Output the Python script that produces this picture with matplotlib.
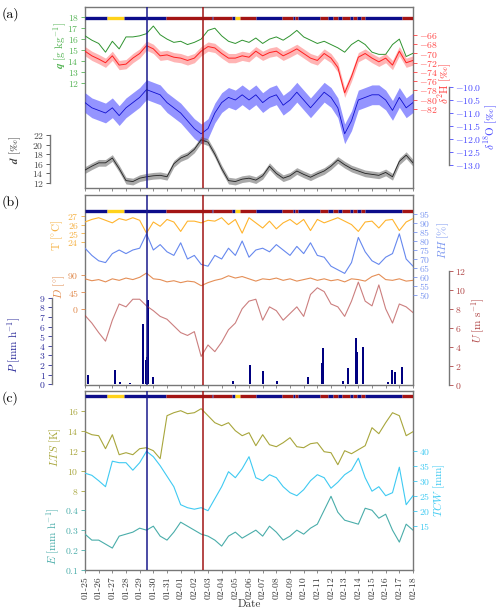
import numpy as np
import pandas as pd
import matplotlib
matplotlib.use("Agg")
import matplotlib.pyplot as plt
from matplotlib.ticker import FormatStrFormatter

plt.rcParams['font.family'] = ['cmr10', 'DejaVu Serif']
plt.rcParams['mathtext.fontset'] = 'cm'
plt.rcParams['axes.formatter.use_mathtext'] = True
plt.rcParams['font.size'] = 8

# sample times: days after 01-25 00:00, every 12 h
days = np.arange(0, 24.01, 0.5)
date_labels = pd.date_range('2020-01-25', '2020-02-18').strftime('%m-%d')

# (a) isotopes and humidity
q = [16.3, 15.9, 15.6, 14.8, 15.8, 15.1, 16.2, 16.2, 16.3, 16.5, 17.2, 16.4, 16.0,
     15.7, 15.8, 15.5, 15.7, 16.0, 16.8, 17.0, 16.3, 15.8, 15.6, 15.9, 15.7, 16.1,
     15.6, 16.0, 16.2, 15.9, 16.3, 16.8, 16.2, 15.9, 15.6, 15.8, 15.5, 15.2, 14.8,
     15.5, 15.9, 15.5, 14.8, 14.6, 14.6, 15.5, 16.0, 14.4, 14.7]
d2h = [-69.5, -70.5, -71.2, -72.0, -70.5, -72.5, -72.3, -71.0, -70.0, -68.3, -69.0,
       -70.5, -70.3, -70.8, -71.0, -71.5, -71.0, -69.5, -68.5, -68.8, -70.0, -71.0,
       -71.0, -70.5, -70.8, -69.5, -70.5, -69.8, -69.5, -70.5, -69.8, -69.0, -70.0,
       -71.0, -71.5, -70.0, -71.0, -73.0, -78.5, -75.0, -70.8, -70.0, -71.0, -71.8,
       -71.0, -72.5, -69.5, -72.0, -71.5]
d18o = [-10.6, -10.8, -10.9, -11.0, -10.8, -11.1, -10.8, -10.6, -10.4, -10.1, -10.2,
        -10.3, -10.6, -10.8, -11.0, -11.3, -11.6, -11.8, -11.6, -11.0, -10.6, -10.4,
        -10.5, -10.3, -10.5, -10.3, -10.6, -10.4, -10.3, -10.7, -10.5, -10.2, -10.5,
        -10.8, -10.5, -10.2, -10.4, -10.8, -11.8, -11.3, -10.5, -10.4, -10.3, -10.3,
        -10.5, -10.9, -10.4, -10.8, -10.6]
dex = [14.7, 15.5, 16.2, 16.2, 17.2, 15.0, 12.5, 12.3, 13.0, 13.3, 13.5, 13.6, 13.3,
       16.0, 17.2, 17.8, 19.0, 21.0, 20.5, 18.0, 15.0, 12.5, 12.3, 12.8, 13.0, 12.6,
       13.5, 15.5, 14.0, 13.0, 13.5, 14.5, 13.8, 13.2, 13.9, 14.5, 15.5, 16.8, 15.8,
       15.0, 14.5, 14.0, 13.8, 13.6, 14.2, 13.3, 16.5, 17.8, 16.2]
d2h_err, d18o_err, dex_err = 1.0, 0.38, 0.7

# (b) surface meteorology
temp = [26.3, 26.6, 26.8, 26.5, 26.2, 26.7, 26.5, 26.8, 26.5, 25.0, 26.3, 25.8, 26.6,
        26.3, 25.2, 26.4, 26.4, 26.2, 26.5, 26.4, 26.8, 26.0, 26.6, 25.0, 26.8, 26.2,
        25.6, 26.4, 25.5, 26.2, 26.6, 26.0, 26.6, 25.3, 26.6, 26.2, 26.5, 26.8, 26.4,
        26.0, 25.2, 26.3, 26.4, 25.6, 26.5, 26.6, 25.3, 26.3, 26.7]
rh = [76, 72, 69, 68, 73, 75, 73, 75, 76, 84, 75, 78, 74, 72, 79, 70, 72, 67, 66, 72,
      70, 76, 72, 80, 71, 75, 76, 74, 78, 75, 72, 77, 73, 79, 72, 71, 66, 64, 62, 68,
      82, 74, 69, 67, 71, 73, 84, 70, 66]
wdir = [80, 75, 78, 72, 80, 76, 82, 78, 84, 95, 80, 78, 72, 75, 70, 74, 72, 62, 70, 76,
        80, 88, 82, 86, 80, 74, 80, 78, 82, 76, 80, 74, 78, 82, 76, 80, 75, 78, 72, 80,
        78, 74, 86, 92, 78, 76, 80, 74, 76]
wspd = [7.3, 6.5, 5.5, 4.6, 6.8, 8.5, 8.2, 9.0, 9.0, 8.3, 7.8, 7.2, 6.9, 6.2, 5.5, 5.2,
        5.6, 3.0, 4.2, 3.5, 4.5, 5.8, 6.5, 8.0, 8.8, 9.0, 6.8, 8.2, 7.8, 6.8, 7.5, 8.2,
        7.2, 9.5, 10.2, 9.8, 8.5, 8.2, 7.2, 8.8, 10.8, 8.8, 8.3, 10.5, 8.0, 6.5, 8.5,
        8.2, 7.6]
rain_days = [0.22, 2.19, 2.56, 3.29, 4.24, 4.44, 4.54, 4.61, 4.97, 10.83, 12.07, 13.02,
             14.05, 16.31, 17.34, 17.41, 18.87, 19.24, 19.82, 19.90, 20.34, 22.17,
             22.46, 22.68, 23.19]
rain = [1.0, 1.5, 0.2, 0.15, 6.3, 2.5, 2.8, 8.8, 0.8, 0.3, 2.0, 1.4, 0.3, 0.8, 2.2,
        3.8, 0.3, 1.7, 4.8, 3.4, 3.9, 0.2, 1.5, 1.3, 1.8]

# (c) boundary layer
lts = [13.9, 13.6, 13.5, 12.2, 13.6, 11.6, 11.8, 11.6, 12.2, 12.3, 12.0, 11.2, 15.5,
       15.8, 16.0, 15.7, 15.8, 16.2, 15.5, 14.8, 14.5, 14.8, 14.0, 13.5, 13.8, 12.5,
       13.6, 12.6, 12.4, 12.8, 13.3, 12.4, 12.3, 12.7, 12.8, 11.9, 11.8, 10.6, 12.0,
       11.7, 12.1, 12.5, 14.3, 13.7, 14.8, 15.8, 15.5, 13.5, 13.9]
tcw = [32.5, 31.8, 30.0, 28.0, 36.5, 36.0, 36.0, 33.5, 36.0, 39.8, 38.0, 35.0, 31.5,
       28.0, 22.0, 21.0, 20.5, 21.0, 20.0, 24.0, 28.0, 33.0, 31.0, 34.0, 38.0, 31.0,
       30.0, 32.0, 31.0, 28.0, 26.0, 25.0, 27.0, 30.0, 32.0, 31.0, 27.5, 29.5, 32.0,
       33.5, 37.5, 31.0, 26.5, 28.0, 25.0, 26.0, 34.5, 22.0, 25.0]
evap = [0.28, 0.25, 0.25, 0.23, 0.21, 0.27, 0.28, 0.29, 0.31, 0.30, 0.32, 0.27, 0.25,
        0.29, 0.34, 0.32, 0.30, 0.28, 0.27, 0.25, 0.22, 0.27, 0.29, 0.26, 0.28, 0.30,
        0.27, 0.32, 0.29, 0.25, 0.27, 0.30, 0.28, 0.31, 0.33, 0.40, 0.47, 0.39, 0.35,
        0.34, 0.33, 0.41, 0.40, 0.36, 0.38, 0.30, 0.24, 0.33, 0.30]

# regime strip along the top of each panel
regime_edges = [0, 1.59, 2.88, 5.93, 9.27, 9.39, 10.73, 10.97, 11.34, 12.49, 14.39,
                15.24, 15.36, 15.58, 17.19, 17.78, 18.15, 18.51, 18.8, 19.39, 19.6,
                19.88, 20.17, 20.48, 23.17, 24]
regime = ['n', 'y', 'n', 'r', 'n', 'r', 'n', 'y', 'r', 'n', 'r', 'n', 'r', 'n', 'r',
          'n', 'r', 'n', 'r', 'n', 'r', 'n', 'r', 'n', 'r']
regime_colors = {'n': '#0c0c8a', 'y': '#ffd21a', 'r': '#a31414'}

event_blue = 4.55
event_red = 8.6

FRAME = '#777777'
H = 611.0
PT = 0.72  # points per pixel at dpi 100


def panel(top_px, bot_px):
    return [85 / 500, 1 - bot_px / H, 328 / 500, (bot_px - top_px) / H]


def scale(ax, ref, ref_px, ppu, top_px, bot_px):
    ax.set_ylim(ref - (bot_px - ref_px) / ppu, ref + (ref_px - top_px) / ppu)


def twin(ax, side, offset_px=0, bounds=None):
    t = ax.twinx()
    for s in t.spines.values():
        s.set_visible(False)
    if side == 'left':
        t.yaxis.tick_left()
        t.yaxis.set_label_position('left')
    if offset_px:
        sp = t.spines[side]
        sp.set_visible(True)
        sp.set_position(('outward', offset_px * PT))
        sp.set_color(FRAME)
        sp.set_linewidth(1.0)
        if bounds:
            sp.set_bounds(*bounds)
    return t


def style_y(ax, ticks, color, label, lx, ly):
    ax.set_yticks(ticks)
    ax.tick_params(axis='y', colors=color, labelsize=7, length=3, width=0.6, pad=1.5)
    ax.set_ylabel(label, color=color, fontsize=8, rotation=90)
    ax.yaxis.set_label_coords(lx, ly)


def base(ax, strip_y, label, last=False):
    for s in ax.spines.values():
        s.set_color(FRAME)
        s.set_linewidth(1.0)
    ax.set_xlim(0, 24)
    ax.set_xticks(range(25))
    ax.tick_params(axis='x', length=2.5, width=0.6, color=FRAME, pad=2)
    if last:
        ax.set_xticklabels(date_labels, rotation=90, fontsize=7, color='#333333')
        ax.set_xlabel('Date', fontsize=8, color='#333333', labelpad=0)
    else:
        ax.tick_params(axis='x', labelbottom=False)
    for i, r in enumerate(regime):
        ax.plot([regime_edges[i], regime_edges[i + 1]], [strip_y, strip_y],
                color=regime_colors[r], lw=2.4, solid_capstyle='butt',
                transform=ax.get_xaxis_transform(), zorder=6)
    ax.text(-0.255, 1.0, label, transform=ax.transAxes, fontsize=10,
            va='top', ha='left')


def events(ax):
    ax.axvline(event_blue, color='#1a1a8c', lw=1.1, zorder=7)
    ax.axvline(event_red, color='#a01515', lw=1.1, zorder=7)


fig = plt.figure(figsize=(5, 6.11), dpi=100)

# ---------------- (a) ----------------
ta, ba = 7, 188
ax_q = fig.add_axes(panel(ta, ba))
base(ax_q, 0.939, '(a)')
ax_h = twin(ax_q, 'right')
ax_o = twin(ax_q, 'right', 36, (-13, -10))
ax_d = twin(ax_q, 'left', 35, (12, 22))

ax_h.fill_between(days, np.array(d2h) - d2h_err, np.array(d2h) + d2h_err,
                  color='#ff2a2a', alpha=0.35, lw=0)
ax_h.plot(days, d2h, color='#ff2020', lw=0.7)
ax_o.fill_between(days, np.array(d18o) - d18o_err, np.array(d18o) + d18o_err,
                  color='#3c3cff', alpha=0.55, lw=0)
ax_o.plot(days, d18o, color='#1010d0', lw=0.6)
ax_d.fill_between(days, np.array(dex) - dex_err, np.array(dex) + dex_err,
                  color='#555555', alpha=0.5, lw=0)
ax_d.plot(days, dex, color='#222222', lw=0.6)
ax_q.plot(days, q, color='#2f932f', lw=0.7, zorder=5)
events(ax_d)

scale(ax_q, 18, 17.3, 10.9, ta, ba)
scale(ax_h, -66, 35, 4.625, ta, ba)
scale(ax_o, -10, 87, 26, ta, ba)
scale(ax_d, 12, 183, 4.8, ta, ba)
style_y(ax_q, range(12, 19), '#55b455', r'$\boldsymbol{q}\ [\mathrm{g\ kg^{-1}}]$', -0.049, 0.79)
style_y(ax_h, range(-82, -65, 2), '#ff4040', r'$\delta^{2}\mathrm{H}\ [‰]$', 1.072, 0.58)
style_y(ax_o, np.arange(-13, -9.9, 0.5), '#4a4aff', r'$\delta^{18}\mathrm{O}\ [‰]$', 1.212, 0.337)
style_y(ax_d, range(12, 23, 2), '#444444', r'$\boldsymbol{d}\ [‰]$', -0.188, 0.21)
ax_o.yaxis.set_major_formatter(FormatStrFormatter(r'$%.1f$'))

# ---------------- (b) ----------------
tb, bb = 195, 385
ax_t = fig.add_axes(panel(tb, bb))
base(ax_t, 0.917, '(b)')
ax_rh = twin(ax_t, 'right')
ax_dir = twin(ax_t, 'left')
ax_p = twin(ax_t, 'left', 33, (0, 9))
ax_u = twin(ax_t, 'right', 36, (0, 12))

ax_p.bar(rain_days, rain, width=0.12, color='#000080', lw=0)
ax_u.plot(days, wspd, color='#b03a3a', lw=0.8, alpha=0.65)
ax_dir.plot(days, wdir, color='#e07b39', lw=0.8, alpha=0.85)
ax_rh.plot(days, rh, color='#6688ee', lw=0.8)
ax_t.plot(days, temp, color='#ffb42e', lw=0.8, zorder=5)
events(ax_u)

scale(ax_t, 27, 216, 8.57, tb, bb)
scale(ax_rh, 95, 214, 1.8, tb, bb)
scale(ax_dir, 90, 275, 0.382, tb, bb)
scale(ax_p, 0, 384.3, 9.63, tb, bb)
scale(ax_u, 0, 385, 9.53, tb, bb)
style_y(ax_t, range(24, 28), '#f5b041', r'$\mathrm{T}\ [^{\circ}\mathrm{C}]$', -0.061, 0.79)
style_y(ax_rh, range(50, 96, 5), '#7a96f0', r'$RH\ [\%]$', 1.07, 0.763)
style_y(ax_dir, [0, 45, 90], '#e0884a', r'$D\ [^{\circ}]$', -0.055, 0.516)
style_y(ax_p, range(0, 10), '#2a2a9a', r'$P\ [\mathrm{mm\ h^{-1}}]$', -0.189, 0.21)
style_y(ax_u, range(0, 13, 2), '#b04545', r'$U\ [\mathrm{m\ s^{-1}}]$', 1.172, 0.342)

# ---------------- (c) ----------------
tc, bc = 391, 570
ax_l = fig.add_axes(panel(tc, bc))
base(ax_l, 0.974, '(c)', last=True)
ax_w = twin(ax_l, 'right')
ax_e = twin(ax_l, 'left')

ax_e.plot(days, evap, color='#4aadaa', lw=0.8)
ax_w.plot(days, tcw, color='#3fcaf2', lw=0.8)
ax_l.plot(days, lts, color='#a8a63c', lw=0.8, zorder=5)
events(ax_e)

scale(ax_l, 16, 410.7, 10, tc, bc)
scale(ax_e, 0.4, 510.7, 200, tc, bc)
scale(ax_w, 40, 450.7, 3, tc, bc)
style_y(ax_l, range(8, 17, 2), '#a8a63c', r'$LTS\ [\mathrm{K}]$', -0.067, 0.689)
style_y(ax_e, [0.1, 0.2, 0.3, 0.4], '#4aadaa', r'$E\ [\mathrm{mm\ h^{-1}}]$', -0.07, 0.186)
style_y(ax_w, range(15, 41, 5), '#3fcaf2', r'$TCW\ [\mathrm{mm}]$', 1.058, 0.447)

fig.savefig('out.png', dpi=100)
